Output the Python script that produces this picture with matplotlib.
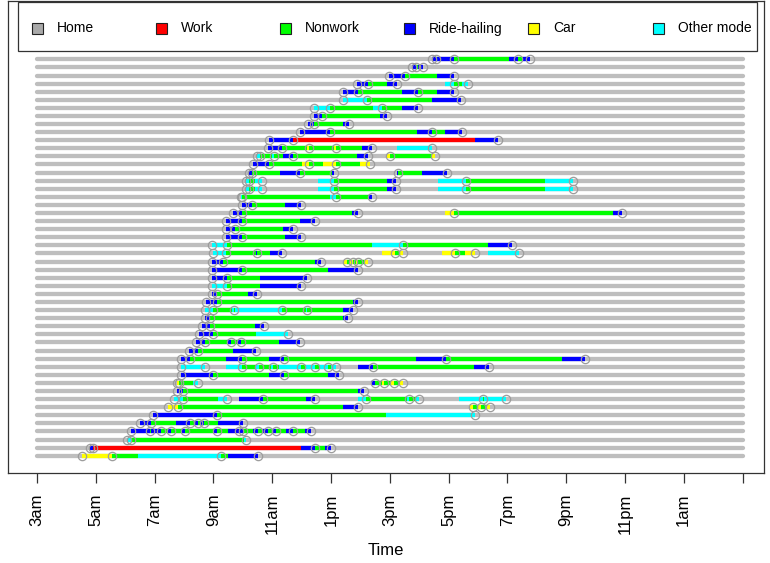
import matplotlib
matplotlib.use("Agg")
import matplotlib.pyplot as plt
from matplotlib.patches import Rectangle

plt.rcParams["font.family"] = ["Liberation Sans", "DejaVu Sans"]

# One daily travel diary per person, listed from the top row down.
# Each trip: (mode, departure hour, arrival hour, purpose at destination)
# mode: R = ride-hailing, C = car, O = other mode
# purpose: N = nonwork, W = work, H = home
p00 = [("R", 16.43, 16.57, "N"), ("R", 16.62, 17.18, "N"), ("R", 19.07, 19.35, "N"), ("R", 19.52, 19.77, "H")]
p01 = [("R", 15.74, 15.90, "N"), ("R", 15.95, 16.12, "H")]
p02 = [("R", 14.99, 15.52, "N"), ("R", 16.62, 17.18, "H")]
p03 = [("R", 13.90, 14.27, "N"), ("R", 14.89, 15.26, "H"), ("O", 16.88, 17.18, "N"), ("O", 17.45, 17.67, "H")]
p04 = [("R", 13.42, 13.93, "N"), ("R", 15.40, 15.95, "N"), ("R", 16.62, 17.18, "H")]
p05 = [("O", 13.42, 14.21, "N"), ("R", 16.43, 17.41, "H")]
p06 = [("O", 12.42, 12.97, "N"), ("O", 14.44, 14.72, "N"), ("R", 15.40, 15.95, "H")]
p07 = [("R", 12.42, 12.68, "N"), ("R", 14.67, 14.92, "H")]
p08 = [("R", 12.23, 12.42, "N"), ("R", 13.42, 13.61, "H")]
p09 = [("R", 11.95, 12.97, "N"), ("R", 15.91, 16.43, "N"), ("R", 16.88, 17.45, "H")]
p10 = [("R", 10.90, 11.72, "W"), ("R", 17.90, 18.69, "H")]
p11 = [("R", 10.87, 11.35, "N"), ("C", 12.18, 12.26, "N"), ("C", 13.10, 13.17, "N"), ("R", 14.04, 14.38, "H"),
       ("O", 15.23, 16.43, "H")]
p12 = [("O", 10.47, 10.60, "N"), ("O", 10.98, 11.06, "N"), ("R", 11.38, 11.72, "N"), ("R", 13.87, 14.27, "H"),
       ("C", 14.89, 15.01, "N"), ("C", 16.45, 16.54, "H")]
p13 = [("R", 10.34, 10.89, "N"), ("C", 12.00, 12.26, "N"), ("C", 12.74, 13.17, "N"), ("C", 13.99, 14.33, "H")]
p14 = [("R", 10.21, 10.30, "N"), ("R", 11.27, 11.95, "N"), ("R", 13.02, 13.10, "H"), ("R", 15.23, 15.29, "N"),
       ("R", 16.08, 16.96, "H")]
p15 = [("O", 10.10, 10.20, "N"), ("O", 10.40, 10.64, "H"), ("O", 12.57, 13.10, "N"), ("R", 14.89, 15.21, "H"),
       ("O", 16.65, 17.61, "N"), ("O", 20.28, 21.24, "H")]
p16 = [("O", 10.10, 10.20, "N"), ("O", 10.40, 10.64, "H"), ("O", 12.57, 13.10, "N"), ("R", 14.89, 15.21, "H"),
       ("O", 16.65, 17.61, "N"), ("O", 20.28, 21.24, "H")]
p17 = [("O", 9.93, 9.98, "N"), ("O", 12.97, 13.17, "N"), ("R", 14.27, 14.38, "H")]
p18 = [("R", 9.96, 10.30, "N"), ("R", 11.44, 11.97, "H")]
p19 = [("R", 9.68, 9.96, "N"), ("R", 13.70, 13.93, "H"), ("C", 16.88, 17.18, "N"), ("R", 22.60, 22.89, "H")]
p20 = [("R", 9.43, 9.96, "N"), ("R", 11.95, 12.46, "H")]
p21 = [("R", 9.43, 9.74, "N"), ("R", 11.38, 11.72, "H")]
p22 = [("R", 9.43, 9.96, "N"), ("R", 11.44, 11.97, "H")]
p23 = [("O", 8.94, 9.47, "N"), ("O", 14.38, 15.46, "N"), ("R", 18.35, 19.15, "H")]
p24 = [("O", 9.00, 9.43, "N"), ("R", 10.45, 10.50, "N"), ("R", 10.93, 11.32, "H"), ("C", 14.72, 15.18, "N"),
       ("C", 15.35, 15.46, "H"), ("C", 16.76, 17.22, "N"), ("C", 17.56, 17.90, "H"), ("O", 18.35, 19.41, "H")]
p25 = [("R", 8.94, 9.34, "N"), ("R", 12.46, 12.65, "H"), ("C", 13.45, 13.53, "N"), ("C", 13.66, 13.74, "N"),
       ("C", 13.85, 13.93, "N"), ("C", 14.12, 14.27, "H")]
p26 = [("R", 8.94, 9.96, "N"), ("R", 12.91, 13.93, "H")]
p27 = [("R", 8.94, 9.47, "N"), ("R", 10.59, 12.20, "H")]
p28 = [("O", 8.94, 9.47, "N"), ("R", 10.59, 11.97, "H")]
p29 = [("R", 8.94, 9.11, "N"), ("R", 10.19, 10.47, "H")]
p30 = [("R", 8.75, 9.11, "N"), ("R", 13.76, 13.93, "H")]
p31 = [("O", 8.70, 8.98, "N"), ("O", 9.65, 9.70, "N"), ("O", 9.72, 11.32, "N"), ("O", 12.15, 12.20, "N"),
       ("R", 13.42, 13.76, "H")]
p32 = [("R", 8.70, 8.89, "N"), ("R", 13.42, 13.59, "H")]
p33 = [("R", 8.60, 8.87, "N"), ("R", 10.43, 10.73, "H")]
p34 = [("R", 8.50, 8.98, "N"), ("O", 10.45, 11.53, "H")]
p35 = [("R", 8.41, 8.73, "N"), ("R", 9.45, 9.60, "N"), ("R", 9.83, 9.94, "N"), ("R", 11.24, 11.95, "H")]
p36 = [("R", 8.16, 8.47, "N"), ("R", 9.66, 10.45, "H")]
p37 = [("R", 7.90, 8.20, "N"), ("R", 9.43, 9.97, "N"), ("R", 10.90, 11.41, "N"), ("R", 15.90, 16.92, "N"),
       ("R", 20.85, 21.64, "H")]
p38 = [("O", 7.90, 8.73, "H"), ("O", 9.43, 9.97, "N"), ("O", 10.45, 10.54, "N"), ("O", 10.95, 11.04, "N"),
       ("O", 11.24, 11.98, "N"), ("O", 12.15, 12.44, "N"), ("O", 12.60, 12.89, "N"), ("O", 13.00, 13.17, "H"),
       ("R", 13.91, 14.42, "N"), ("R", 17.85, 18.39, "H")]
p39 = [("R", 7.90, 8.98, "N"), ("R", 10.90, 11.41, "N"), ("R", 12.89, 13.29, "H")]
p40 = [("C", 7.75, 7.82, "N"), ("O", 8.30, 8.49, "H"), ("R", 14.36, 14.51, "N"), ("C", 14.72, 14.82, "N"),
       ("C", 15.05, 15.16, "N"), ("C", 15.35, 15.44, "H")]
p41 = [("R", 7.75, 7.96, "N"), ("R", 13.91, 14.14, "H")]
p42 = [("O", 7.67, 7.96, "N"), ("O", 9.15, 9.46, "H"), ("R", 9.88, 10.70, "N"), ("R", 12.15, 12.47, "H"),
       ("O", 13.91, 14.19, "N"), ("O", 15.60, 15.67, "N"), ("O", 15.90, 16.00, "H"), ("O", 17.37, 18.16, "N"),
       ("O", 18.20, 18.95, "H")]
p43 = [("C", 7.45, 7.79, "N"), ("R", 13.40, 13.91, "H"), ("C", 17.70, 17.82, "N"), ("C", 18.00, 18.10, "N"),
       ("C", 18.30, 18.40, "H")]
p44 = [("R", 6.94, 9.11, "N"), ("O", 14.87, 17.90, "H")]
p45 = [("R", 6.49, 6.89, "N"), ("R", 7.74, 8.22, "N"), ("R", 8.35, 8.47, "N"), ("R", 8.55, 8.68, "N"),
       ("R", 9.15, 10.00, "H")]
p46 = [("R", 6.20, 6.83, "N"), ("R", 6.88, 7.23, "N"), ("R", 7.45, 7.57, "N"), ("R", 7.90, 8.04, "N"),
       ("R", 9.00, 9.13, "N"), ("R", 9.49, 9.86, "N"), ("R", 9.90, 10.00, "N"), ("R", 10.35, 10.51, "N"),
       ("R", 10.70, 10.85, "N"), ("R", 11.00, 11.14, "N"), ("R", 11.48, 11.70, "N"), ("R", 12.10, 12.33, "H")]
p47 = [("O", 6.05, 6.20, "N"), ("O", 10.05, 10.12, "H")]
p48 = [("R", 4.79, 4.90, "W"), ("R", 11.99, 12.44, "N"), ("R", 12.80, 13.01, "H")]
p49 = [("C", 4.53, 5.55, "N"), ("O", 6.43, 9.27, "N"), ("R", 9.49, 10.51, "H")]

diaries = [p00, p01, p02, p03, p04, p05, p06, p07, p08, p09,
           p10, p11, p12, p13, p14, p15, p16, p17, p18, p19,
           p20, p21, p22, p23, p24, p25, p26, p27, p28, p29,
           p30, p31, p32, p33, p34, p35, p36, p37, p38, p39,
           p40, p41, p42, p43, p44, p45, p46, p47, p48, p49]

tick_hours = [3, 5, 7, 9, 11, 13, 15, 17, 19, 21, 23, 25, 27]
tick_labels = ["3am", "5am", "7am", "9am", "11am", "1pm", "3pm", "5pm", "7pm", "9pm", "11pm", "1am", ""]

legend_labels = ["Home", "Work", "Nonwork", "Ride-hailing", "Car", "Other mode"]
legend_colors = ["#A9A9A9", "#FF0000", "#00FF00", "#0000FF", "#FFFF00", "#00FFFF"]

DAY_START, DAY_END = 3, 27
HOME_COLOR = "#BEBEBE"
MODE_COLORS = {"R": "#0000FF", "C": "#FFFF00", "O": "#00FFFF"}
ACTIVITY_COLORS = {"N": "#00FF00", "W": "#FF0000"}
CIRCLE_COLOR = "#9C9C9C"
LW = 3.1

W, H = 770, 563
fig = plt.figure(figsize=(W / 100, H / 100), dpi=100)
ax = fig.add_axes([8 / W, 1 - 473 / H, (764 - 8) / W, (473 - 1) / H])

n = len(diaries)
for idx, trips in enumerate(diaries):
    y = n - idx
    ax.plot([DAY_START, DAY_END], [y, y], color=HOME_COLOR, lw=LW, solid_capstyle="round", zorder=1)
    # activities at each destination, until the next departure
    for k, (mode, dep, arr, purpose) in enumerate(trips):
        if purpose in ACTIVITY_COLORS and k + 1 < len(trips):
            nxt = trips[k + 1][1]
            ax.plot([arr, nxt], [y, y], color=ACTIVITY_COLORS[purpose], lw=LW,
                    solid_capstyle="butt", zorder=2)
    # trips themselves
    for mode, dep, arr, purpose in trips:
        ax.plot([dep, arr], [y, y], color=MODE_COLORS[mode], lw=LW, solid_capstyle="butt", zorder=3)
    # stop markers: leaving home in the morning and every arrival
    stops = [trips[0][1]] + [t[2] for t in trips]
    ax.plot(stops, [y] * len(stops), linestyle="none", marker="o", markersize=6,
            markerfacecolor="none", markeredgecolor=CIRCLE_COLOR, markeredgewidth=0.9, zorder=4)

ax.set_xlim(2.014, 27.73)
ax.set_ylim(-1.14, 57.21)
ax.set_yticks([])
ax.set_xticks(tick_hours)
ax.set_xticklabels(tick_labels, rotation=90, fontsize=12)
ax.tick_params(axis="x", length=7, width=0.9, pad=8, color="#333333")
for s in ax.spines.values():
    s.set_color("#333333")
    s.set_linewidth(0.9)
ax.set_xlabel("Time", fontsize=12, labelpad=6)

# legend across the top
lax = fig.add_axes([0, 0, 1, 1], facecolor="none")
lax.set_xlim(0, W)
lax.set_ylim(H, 0)
lax.axis("off")
lax.add_patch(Rectangle((18, 2), 757 - 18, 48.7, facecolor="white", edgecolor="#333333", lw=0.9))
for k, (lab, col) in enumerate(zip(legend_labels, legend_colors)):
    cx = 37 + 124.2 * k
    lax.add_patch(Rectangle((cx - 5.5, 22.5), 11, 11, facecolor=col, edgecolor="#222222", lw=0.8))
    lax.text(56.5 + 124.2 * k, 28.5, lab, fontsize=10, va="center", ha="left")

fig.savefig("out.png", dpi=100)
